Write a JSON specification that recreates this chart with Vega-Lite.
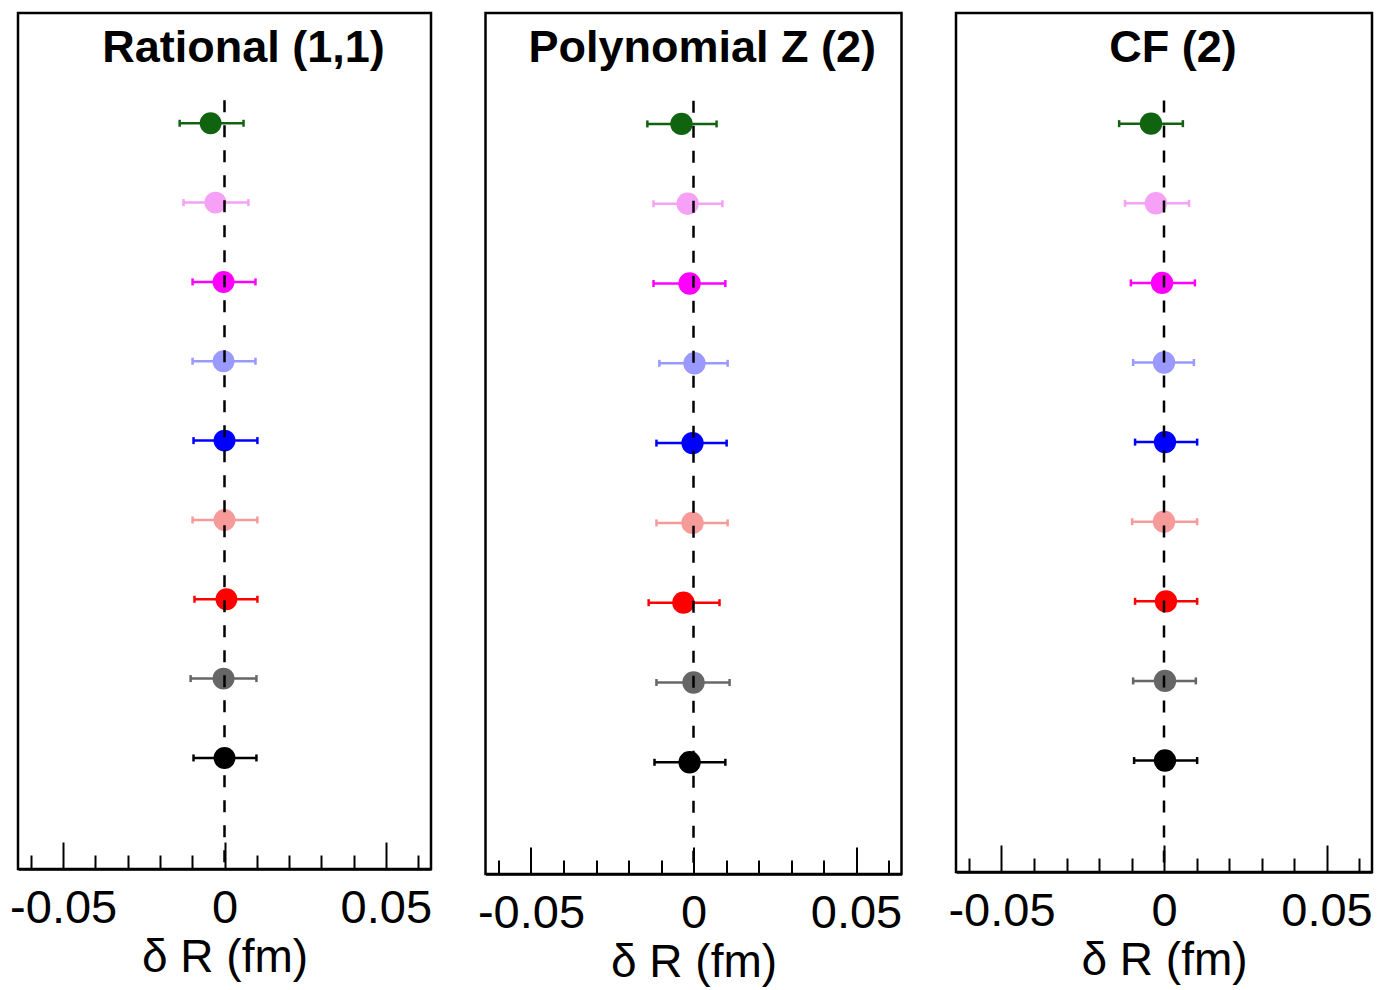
{
  "$schema": "https://vega.github.io/schema/vega-lite/v6.json",
  "padding": {"left": 8, "top": 11, "right": 2, "bottom": 2},
  "background": "white",
  "config": {
    "view": {"stroke": "black", "strokeWidth": 2.5},
    "font": "Liberation Sans"
  },
  "datasets": {
    "pts": [
      {"p": 1, "r": 9, "c": "g", "v": -0.0043, "lo": -0.0139, "hi": 0.0059},
      {"p": 1, "r": 8, "c": "pk", "v": -0.0028, "lo": -0.0127, "hi": 0.0074},
      {"p": 1, "r": 7, "c": "m", "v": -0.0003, "lo": -0.0099, "hi": 0.0096},
      {"p": 1, "r": 6, "c": "lb", "v": -0.0003, "lo": -0.0099, "hi": 0.0096},
      {"p": 1, "r": 5, "c": "b", "v": 0.0, "lo": -0.0096, "hi": 0.0102},
      {"p": 1, "r": 4, "c": "lr", "v": 0.0, "lo": -0.0099, "hi": 0.0102},
      {"p": 1, "r": 3, "c": "r", "v": 0.0006, "lo": -0.0093, "hi": 0.0102},
      {"p": 1, "r": 2, "c": "gy", "v": -0.0003, "lo": -0.0105, "hi": 0.0099},
      {"p": 1, "r": 1, "c": "k", "v": 0.0, "lo": -0.0096, "hi": 0.0099},
      {"p": 2, "r": 9, "c": "g", "v": -0.0037, "lo": -0.0142, "hi": 0.0071},
      {"p": 2, "r": 8, "c": "pk", "v": -0.0018, "lo": -0.0123, "hi": 0.0089},
      {"p": 2, "r": 7, "c": "m", "v": -0.0012, "lo": -0.0123, "hi": 0.0098},
      {"p": 2, "r": 6, "c": "lb", "v": 0.0003, "lo": -0.0105, "hi": 0.0105},
      {"p": 2, "r": 5, "c": "b", "v": -0.0003, "lo": -0.0114, "hi": 0.0102},
      {"p": 2, "r": 4, "c": "lr", "v": -0.0003, "lo": -0.0114, "hi": 0.0105},
      {"p": 2, "r": 3, "c": "r", "v": -0.0031, "lo": -0.0138, "hi": 0.008},
      {"p": 2, "r": 2, "c": "gy", "v": 0.0, "lo": -0.0114, "hi": 0.0111},
      {"p": 2, "r": 1, "c": "k", "v": -0.0012, "lo": -0.012, "hi": 0.0098},
      {"p": 3, "r": 9, "c": "g", "v": -0.004, "lo": -0.0138, "hi": 0.0058},
      {"p": 3, "r": 8, "c": "pk", "v": -0.0025, "lo": -0.012, "hi": 0.0077},
      {"p": 3, "r": 7, "c": "m", "v": -0.0006, "lo": -0.0102, "hi": 0.0095},
      {"p": 3, "r": 6, "c": "lb", "v": 0.0, "lo": -0.0095, "hi": 0.0092},
      {"p": 3, "r": 5, "c": "b", "v": 0.0003, "lo": -0.0089, "hi": 0.0102},
      {"p": 3, "r": 4, "c": "lr", "v": 0.0, "lo": -0.0098, "hi": 0.0102},
      {"p": 3, "r": 3, "c": "r", "v": 0.0006, "lo": -0.0089, "hi": 0.0102},
      {"p": 3, "r": 2, "c": "gy", "v": 0.0003, "lo": -0.0095, "hi": 0.0098},
      {"p": 3, "r": 1, "c": "k", "v": 0.0003, "lo": -0.0092, "hi": 0.0102}
    ],
    "titles": [
      {"p": 1, "t": "Rational (1,1)", "tx": 0.0059},
      {"p": 2, "t": "Polynomial Z (2)", "tx": 0.0027},
      {"p": 3, "t": "CF (2)", "tx": 0.0028}
    ]
  },
  "hconcat": [
    {
      "width": 413, "height": 856,
      "layer": [
        {"data": {"name": "pts"}, "transform": [{"filter": "datum.p == 1"}],
         "mark": {"type": "rule", "strokeWidth": 2.5},
         "encoding": {
           "x": {"field": "lo", "type": "quantitative", "scale": {"domain": [-0.064, 0.064], "nice": false, "zero": false},
                 "axis": {"orient": "bottom", "values": [-0.05, 0, 0.05], "ticks": false, "domain": true, "domainColor": "black", "domainWidth": 2.5, "grid": false,
                          "labelFont": "Liberation Sans", "labelFontSize": 47, "labelColor": "black", "labelPadding": 16, "labelFlush": false, "labelOverlap": false,
                          "labelExpr": "datum.value < -0.01 ? '-0.05' : (datum.value > 0.01 ? '0.05' : '0')",
                          "title": "δ R (fm)", "titleFont": "Liberation Sans", "titleFontSize": 46, "titleFontWeight": "normal", "titleColor": "black", "titlePadding": 4}},
           "x2": {"field": "hi"},
           "y": {"field": "r", "type": "quantitative", "scale": {"domain": [-0.4, 10.39], "nice": false, "zero": false}, "axis": null},
           "color": {"field": "c", "type": "nominal", "legend": null, "scale": {"domain": ["g", "pk", "m", "lb", "b", "lr", "r", "gy", "k"], "range": ["#106410", "#f6a0f6", "#ff00ff", "#9999ff", "#0000ff", "#f69a9a", "#ff0000", "#666666", "#000000"]}}
         }},
        {"data": {"name": "pts"}, "transform": [{"filter": "datum.p == 1"}],
         "mark": {"type": "tick", "orient": "vertical", "size": 7, "thickness": 2.5, "opacity": 1},
         "encoding": {
           "x": {"field": "lo", "type": "quantitative", "axis": {"orient": "bottom", "values": [-0.05, 0, 0.05], "ticks": true, "tickSize": -27, "tickWidth": 2, "tickColor": "black", "labels": false, "domain": false, "grid": false, "title": null}},
           "y": {"field": "r", "type": "quantitative", "axis": null},
           "color": {"field": "c", "type": "nominal", "legend": null}
         }},
        {"data": {"name": "pts"}, "transform": [{"filter": "datum.p == 1"}],
         "mark": {"type": "tick", "orient": "vertical", "size": 7, "thickness": 2.5, "opacity": 1},
         "encoding": {
           "x": {"field": "hi", "type": "quantitative", "axis": {"orient": "bottom", "values": [-0.06, -0.04, -0.03, -0.02, -0.01, 0.01, 0.02, 0.03, 0.04, 0.06], "ticks": true, "tickSize": -14, "tickWidth": 2, "tickColor": "black", "labels": false, "domain": false, "grid": false, "title": null}},
           "y": {"field": "r", "type": "quantitative", "axis": null},
           "color": {"field": "c", "type": "nominal", "legend": null}
         }},
        {"data": {"name": "pts"}, "transform": [{"filter": "datum.p == 1"}],
         "mark": {"type": "point", "filled": true, "shape": "circle", "size": 480, "opacity": 1},
         "encoding": {
           "x": {"field": "v", "type": "quantitative", "axis": null},
           "y": {"field": "r", "type": "quantitative", "axis": null},
           "color": {"field": "c", "type": "nominal", "legend": null}
         }},
        {"data": {"name": "titles"}, "transform": [{"filter": "datum.p == 1"}],
         "mark": {"type": "rule", "strokeDash": [12, 13], "strokeWidth": 2.5, "color": "black"},
         "encoding": {
           "x": {"datum": 0, "type": "quantitative", "axis": null},
           "y": {"datum": 9.29, "type": "quantitative", "axis": null},
           "y2": {"datum": -0.4}
         }},
        {"data": {"name": "titles"}, "transform": [{"filter": "datum.p == 1"}],
         "mark": {"type": "text", "font": "Liberation Sans", "fontWeight": "bold", "fontSize": 45, "align": "center", "baseline": "alphabetic", "color": "black"},
         "encoding": {
           "x": {"field": "tx", "type": "quantitative", "axis": null},
           "y": {"datum": 9.77, "type": "quantitative", "axis": null},
           "text": {"field": "t"}
         }}
      ],
      "resolve": {"axis": {"x": "independent"}}
    },
    {
      "width": 416, "height": 861,
      "layer": [
        {"data": {"name": "pts"}, "transform": [{"filter": "datum.p == 2"}],
         "mark": {"type": "rule", "strokeWidth": 2.5},
         "encoding": {
           "x": {"field": "lo", "type": "quantitative", "scale": {"domain": [-0.064, 0.064], "nice": false, "zero": false},
                 "axis": {"orient": "bottom", "values": [-0.05, 0, 0.05], "ticks": false, "domain": true, "domainColor": "black", "domainWidth": 2.5, "grid": false,
                          "labelFont": "Liberation Sans", "labelFontSize": 47, "labelColor": "black", "labelPadding": 16, "labelFlush": false, "labelOverlap": false,
                          "labelExpr": "datum.value < -0.01 ? '-0.05' : (datum.value > 0.01 ? '0.05' : '0')",
                          "title": "δ R (fm)", "titleFont": "Liberation Sans", "titleFontSize": 46, "titleFontWeight": "normal", "titleColor": "black", "titlePadding": 4}},
           "x2": {"field": "hi"},
           "y": {"field": "r", "type": "quantitative", "scale": {"domain": [-0.4, 10.39], "nice": false, "zero": false}, "axis": null},
           "color": {"field": "c", "type": "nominal", "legend": null, "scale": {"domain": ["g", "pk", "m", "lb", "b", "lr", "r", "gy", "k"], "range": ["#106410", "#f6a0f6", "#ff00ff", "#9999ff", "#0000ff", "#f69a9a", "#ff0000", "#666666", "#000000"]}}
         }},
        {"data": {"name": "pts"}, "transform": [{"filter": "datum.p == 2"}],
         "mark": {"type": "tick", "orient": "vertical", "size": 7, "thickness": 2.5, "opacity": 1},
         "encoding": {
           "x": {"field": "lo", "type": "quantitative", "axis": {"orient": "bottom", "values": [-0.05, 0, 0.05], "ticks": true, "tickSize": -27, "tickWidth": 2, "tickColor": "black", "labels": false, "domain": false, "grid": false, "title": null}},
           "y": {"field": "r", "type": "quantitative", "axis": null},
           "color": {"field": "c", "type": "nominal", "legend": null}
         }},
        {"data": {"name": "pts"}, "transform": [{"filter": "datum.p == 2"}],
         "mark": {"type": "tick", "orient": "vertical", "size": 7, "thickness": 2.5, "opacity": 1},
         "encoding": {
           "x": {"field": "hi", "type": "quantitative", "axis": {"orient": "bottom", "values": [-0.06, -0.04, -0.03, -0.02, -0.01, 0.01, 0.02, 0.03, 0.04, 0.06], "ticks": true, "tickSize": -14, "tickWidth": 2, "tickColor": "black", "labels": false, "domain": false, "grid": false, "title": null}},
           "y": {"field": "r", "type": "quantitative", "axis": null},
           "color": {"field": "c", "type": "nominal", "legend": null}
         }},
        {"data": {"name": "pts"}, "transform": [{"filter": "datum.p == 2"}],
         "mark": {"type": "point", "filled": true, "shape": "circle", "size": 500, "opacity": 1},
         "encoding": {
           "x": {"field": "v", "type": "quantitative", "axis": null},
           "y": {"field": "r", "type": "quantitative", "axis": null},
           "color": {"field": "c", "type": "nominal", "legend": null}
         }},
        {"data": {"name": "titles"}, "transform": [{"filter": "datum.p == 2"}],
         "mark": {"type": "rule", "strokeDash": [12, 13], "strokeWidth": 2.5, "color": "black"},
         "encoding": {
           "x": {"datum": 0, "type": "quantitative", "axis": null},
           "y": {"datum": 9.29, "type": "quantitative", "axis": null},
           "y2": {"datum": -0.4}
         }},
        {"data": {"name": "titles"}, "transform": [{"filter": "datum.p == 2"}],
         "mark": {"type": "text", "font": "Liberation Sans", "fontWeight": "bold", "fontSize": 45, "align": "center", "baseline": "alphabetic", "color": "black"},
         "encoding": {
           "x": {"field": "tx", "type": "quantitative", "axis": null},
           "y": {"datum": 9.77, "type": "quantitative", "axis": null},
           "text": {"field": "t"}
         }}
      ],
      "resolve": {"axis": {"x": "independent"}}
    },
    {
      "width": 416, "height": 859,
      "layer": [
        {"data": {"name": "pts"}, "transform": [{"filter": "datum.p == 3"}],
         "mark": {"type": "rule", "strokeWidth": 2.5},
         "encoding": {
           "x": {"field": "lo", "type": "quantitative", "scale": {"domain": [-0.064, 0.064], "nice": false, "zero": false},
                 "axis": {"orient": "bottom", "values": [-0.05, 0, 0.05], "ticks": false, "domain": true, "domainColor": "black", "domainWidth": 2.5, "grid": false,
                          "labelFont": "Liberation Sans", "labelFontSize": 47, "labelColor": "black", "labelPadding": 16, "labelFlush": false, "labelOverlap": false,
                          "labelExpr": "datum.value < -0.01 ? '-0.05' : (datum.value > 0.01 ? '0.05' : '0')",
                          "title": "δ R (fm)", "titleFont": "Liberation Sans", "titleFontSize": 46, "titleFontWeight": "normal", "titleColor": "black", "titlePadding": 4}},
           "x2": {"field": "hi"},
           "y": {"field": "r", "type": "quantitative", "scale": {"domain": [-0.4, 10.39], "nice": false, "zero": false}, "axis": null},
           "color": {"field": "c", "type": "nominal", "legend": null, "scale": {"domain": ["g", "pk", "m", "lb", "b", "lr", "r", "gy", "k"], "range": ["#106410", "#f6a0f6", "#ff00ff", "#9999ff", "#0000ff", "#f69a9a", "#ff0000", "#666666", "#000000"]}}
         }},
        {"data": {"name": "pts"}, "transform": [{"filter": "datum.p == 3"}],
         "mark": {"type": "tick", "orient": "vertical", "size": 7, "thickness": 2.5, "opacity": 1},
         "encoding": {
           "x": {"field": "lo", "type": "quantitative", "axis": {"orient": "bottom", "values": [-0.05, 0, 0.05], "ticks": true, "tickSize": -27, "tickWidth": 2, "tickColor": "black", "labels": false, "domain": false, "grid": false, "title": null}},
           "y": {"field": "r", "type": "quantitative", "axis": null},
           "color": {"field": "c", "type": "nominal", "legend": null}
         }},
        {"data": {"name": "pts"}, "transform": [{"filter": "datum.p == 3"}],
         "mark": {"type": "tick", "orient": "vertical", "size": 7, "thickness": 2.5, "opacity": 1},
         "encoding": {
           "x": {"field": "hi", "type": "quantitative", "axis": {"orient": "bottom", "values": [-0.06, -0.04, -0.03, -0.02, -0.01, 0.01, 0.02, 0.03, 0.04, 0.06], "ticks": true, "tickSize": -14, "tickWidth": 2, "tickColor": "black", "labels": false, "domain": false, "grid": false, "title": null}},
           "y": {"field": "r", "type": "quantitative", "axis": null},
           "color": {"field": "c", "type": "nominal", "legend": null}
         }},
        {"data": {"name": "pts"}, "transform": [{"filter": "datum.p == 3"}],
         "mark": {"type": "point", "filled": true, "shape": "circle", "size": 500, "opacity": 1},
         "encoding": {
           "x": {"field": "v", "type": "quantitative", "axis": null},
           "y": {"field": "r", "type": "quantitative", "axis": null},
           "color": {"field": "c", "type": "nominal", "legend": null}
         }},
        {"data": {"name": "titles"}, "transform": [{"filter": "datum.p == 3"}],
         "mark": {"type": "rule", "strokeDash": [12, 13], "strokeWidth": 2.5, "color": "black"},
         "encoding": {
           "x": {"datum": 0, "type": "quantitative", "axis": null},
           "y": {"datum": 9.29, "type": "quantitative", "axis": null},
           "y2": {"datum": -0.4}
         }},
        {"data": {"name": "titles"}, "transform": [{"filter": "datum.p == 3"}],
         "mark": {"type": "text", "font": "Liberation Sans", "fontWeight": "bold", "fontSize": 45, "align": "center", "baseline": "alphabetic", "color": "black"},
         "encoding": {
           "x": {"field": "tx", "type": "quantitative", "axis": null},
           "y": {"datum": 9.77, "type": "quantitative", "axis": null},
           "text": {"field": "t"}
         }}
      ],
      "resolve": {"axis": {"x": "independent"}}
    }
  ],
  "spacing": 54.5,
  "bounds": "flush"
}
